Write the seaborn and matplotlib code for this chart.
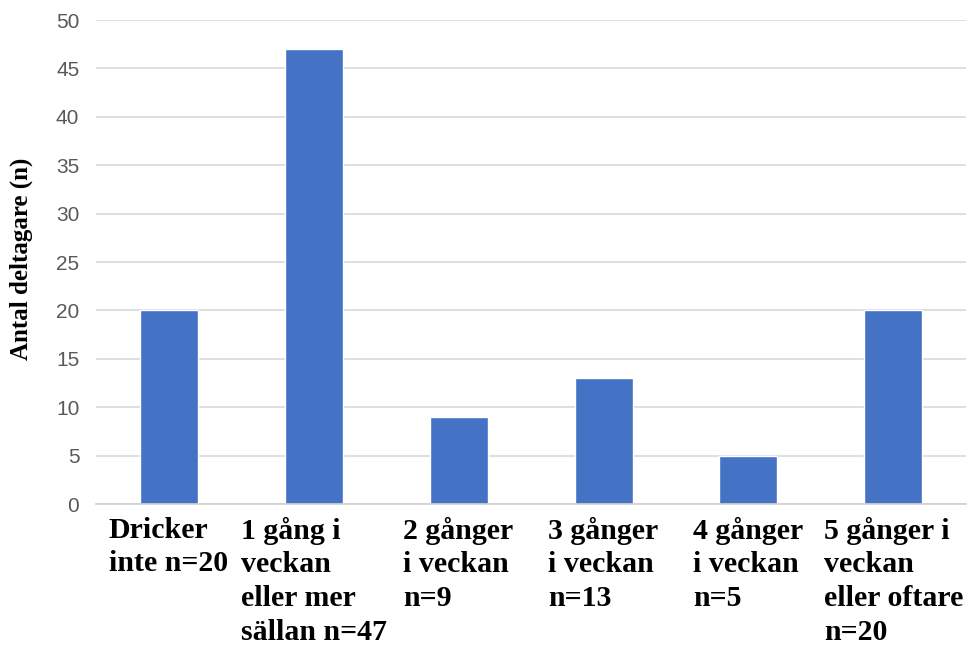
import matplotlib
matplotlib.use("Agg")
import matplotlib.pyplot as plt
import seaborn as sns
import pandas as pd

# Kategorier och antal deltagare per kategori
categories = [
    "Dricker\ninte n=20",
    "1 gång i\nveckan\neller mer\nsällan n=47",
    "2 gånger\ni veckan\nn=9",
    "3 gånger\ni veckan\nn=13",
    "4 gånger\ni veckan\nn=5",
    "5 gånger i\nveckan\neller oftare\nn=20",
]
counts = [20, 47, 9, 13, 5, 20]
y_ticks = [0, 5, 10, 15, 20, 25, 30, 35, 40, 45, 50]

sns.set_theme(style="white")
plt.rcParams["font.family"] = ["Liberation Sans", "DejaVu Sans"]

df = pd.DataFrame({"kategori": categories, "antal": counts})

fig = plt.figure(figsize=(9.79, 6.47), dpi=100)
ax = fig.add_axes([0.0981, 0.221, 0.8886, 0.748])

sns.barplot(data=df, x="kategori", y="antal", color="#4472C4",
            width=0.4, saturation=1, ax=ax)

ax.set_ylim(0, 50)
ax.set_yticks(y_ticks)
ax.set_yticklabels([str(t) for t in y_ticks], fontsize=15, color="#595959")
ax.yaxis.grid(True, color="#D9D9D9", linewidth=1.2)
ax.set_axisbelow(True)
ax.tick_params(axis="y", length=0, pad=12)
ax.tick_params(axis="x", length=0, pad=9)

for side in ("top", "right", "left"):
    ax.spines[side].set_visible(False)
ax.spines["bottom"].set_color("#D0D0D0")
ax.spines["bottom"].set_linewidth(1.2)

ax.set_xlabel("")
for lbl in ax.get_xticklabels():
    lbl.set_fontfamily(["Liberation Serif", "DejaVu Serif"])
    lbl.set_fontweight("bold")
    lbl.set_fontsize(21.5)
    lbl.set_color("black")
    lbl.set_ha("center")
    lbl.set_multialignment("left")
    lbl.set_linespacing(1.32)

ax.set_ylabel("Antal deltagare (n)", fontfamily=["Liberation Serif", "DejaVu Serif"],
              fontweight="bold", fontsize=18, color="black")
ax.yaxis.set_label_coords(-0.073, 0.506)

fig.savefig("out.png", dpi=100)
